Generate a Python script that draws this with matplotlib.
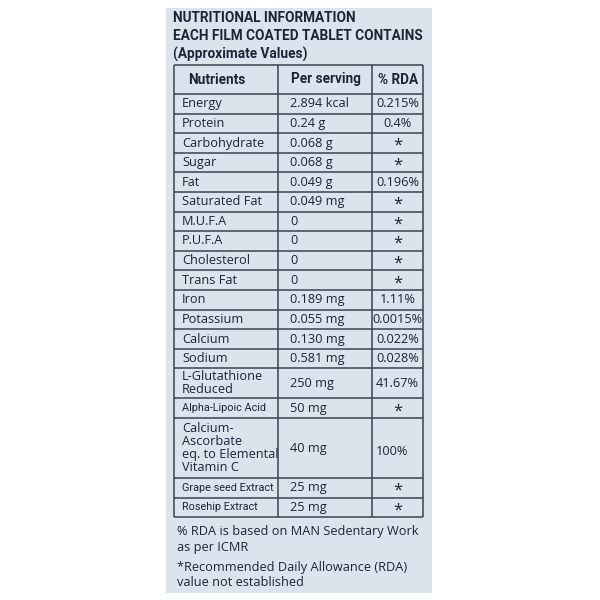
import matplotlib.pyplot as plt
from matplotlib.patches import Rectangle

# table contents
nutrients = ["Energy", "Protein", "Carbohydrate", "Sugar", "Fat", "Saturated Fat",
             "M.U.F.A", "P.U.F.A", "Cholesterol", "Trans Fat", "Iron", "Potassium",
             "Calcium", "Sodium", "L-Glutathione\nReduced", "Alpha-Lipoic Acid",
             "Calcium-\nAscorbate\neq. to Elemental\nVitamin C",
             "Grape seed Extract", "Rosehip Extract"]
per_serving = ["2.894 kcal", "0.24 g", "0.068 g", "0.068 g", "0.049 g", "0.049 mg",
               "0", "0", "0", "0", "0.189 mg", "0.055 mg", "0.130 mg", "0.581 mg",
               "250 mg", "50 mg", "40 mg", "25 mg", "25 mg"]
rda = ["0.215%", "0.4%", "*", "*", "0.196%", "*", "*", "*", "*", "*", "1.11%",
       "0.0015%", "0.022%", "0.028%", "41.67%", "*", "100%", "*", "*"]
narrow_rows = ["Alpha-Lipoic Acid", "Grape seed Extract", "Rosehip Extract"]

title_lines = ["NUTRITIONAL INFORMATION", "EACH FILM COATED TABLET CONTAINS",
               "(Approximate Values)"]
header = ["Nutrients", "Per serving", "% RDA"]
footer_lines = ["% RDA is based on MAN Sedentary Work", "as per ICMR",
                "*Recommended Daily Allowance (RDA)", "value not established"]

panel_col = "#dbe4ed"
text_col = "#1c2536"
line_col = "#3b4352"
body_font = ["Open Sans", "DejaVu Sans"]
narrow_font = ["Roboto", "DejaVu Sans"]

fig = plt.figure(figsize=(6, 6), dpi=100)
ax = fig.add_axes([0, 0, 1, 1])
ax.set_xlim(0, 600)
ax.set_ylim(600, 0)
ax.axis("off")

ax.add_patch(Rectangle((166, 8), 266, 585, facecolor=panel_col, edgecolor="none"))

# title block
for i, t in enumerate(title_lines):
    ax.text(173, 18 + i * 18, t, family=narrow_font, fontweight="bold",
            fontsize=9.8, color=text_col, va="center", ha="left")

# table geometry
x_left, x_c1, x_c2, x_right = 174, 278, 372, 423
y_top, y_head = 65, 94
bounds = [y_top, y_head]
for name in nutrients:
    n = name.count("\n") + 1
    bounds.append(bounds[-1] + (19.6 if n == 1 else 15 * n))

ax.hlines(bounds, x_left, x_right, color=line_col, lw=1.1)
ax.vlines([x_left, x_c1, x_c2, x_right], bounds[0], bounds[-1], color=line_col, lw=1.1)

hy = (y_top + y_head) / 2
ax.text(188, hy, header[0], family=narrow_font, fontweight="bold",
        fontsize=9.8, color=text_col, ha="left", va="center")
ax.text((x_c1 + x_c2) / 2 + 1, hy, header[1], family=narrow_font, fontweight="bold",
        fontsize=9.8, color=text_col, ha="center", va="center")
ax.text((x_c2 + x_right) / 2 + 1, hy, header[2], family=narrow_font, fontweight="bold",
        fontsize=9.8, color=text_col, ha="center", va="center")

for i, name in enumerate(nutrients):
    yc = (bounds[i + 1] + bounds[i + 2]) / 2
    if name in narrow_rows:
        ax.text(x_left + 8, yc, name, family=narrow_font, fontsize=7.8,
                color=text_col, ha="left", va="center")
    else:
        ax.text(x_left + 8, yc, name, family=body_font, fontsize=9.2,
                color=text_col, ha="left", va="center", linespacing=1.0)
    ax.text(x_c1 + 12, yc, per_serving[i], family=body_font, fontsize=9.2,
            color=text_col, ha="left", va="center")
    if rda[i] == "*":
        ax.text((x_c2 + x_right) / 2, yc + 3, "*", family=body_font, fontsize=12,
                color=text_col, ha="center", va="center")
    elif name.count("\n") > 1:
        ax.text(x_c2 + 4, yc + 3, rda[i], family=body_font, fontsize=9.2,
                color=text_col, ha="left", va="center")
    else:
        ax.text((x_c2 + x_right) / 2, yc, rda[i], family=body_font, fontsize=9.2,
                color=text_col, ha="center", va="center")

# footnotes
footer_y = [532, 548, 567, 583]
for t, y in zip(footer_lines, footer_y):
    ax.text(177, y, t, family=body_font, fontsize=9.2,
            color=text_col, ha="left", va="center")

fig.savefig("out.png", dpi=100, facecolor="white")
